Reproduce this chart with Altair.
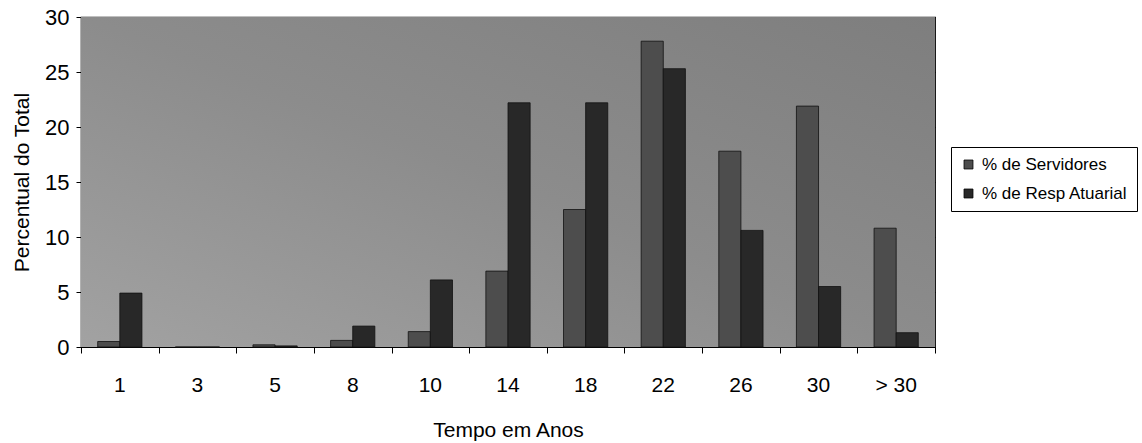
import altair as alt
import pandas as pd

categories = ["1", "3", "5", "8", "10", "14", "18", "22", "26", "30", "> 30"]
servidores = [0.5, 0.0, 0.2, 0.6, 1.4, 6.9, 12.5, 27.8, 17.8, 21.9, 10.8]
resp_atuarial = [4.9, 0.0, 0.1, 1.9, 6.1, 22.2, 22.2, 25.3, 10.6, 5.5, 1.3]
series = ["% de Servidores", "% de Resp Atuarial"]
colors = ["#4d4d4d", "#282828"]

rows = []
for i, c in enumerate(categories):
    rows.append({"cat": c, "idx": i, "serie": series[0], "val": servidores[i]})
    rows.append({"cat": c, "idx": i, "serie": series[1], "val": resp_atuarial[i]})
df = pd.DataFrame(rows)

FONT = "Liberation Sans"

gradient = alt.LinearGradient(
    gradient="linear", x1=0, y1=1, x2=1, y2=0,
    stops=[
        alt.GradientStop(offset=0, color="#a2a2a2"),
        alt.GradientStop(offset=0.5, color="#8c8c8c"),
        alt.GradientStop(offset=1, color="#7e7e7e"),
    ],
)

background = alt.Chart(pd.DataFrame({"a": [0]})).mark_rect(color=gradient).encode(
    x=alt.value(0), x2=alt.value("width"), y=alt.value(0), y2=alt.value("height")
)

y_enc = alt.Y(
    "val:Q",
    scale=alt.Scale(domain=[0, 30], nice=False),
    axis=alt.Axis(
        values=[0, 5, 10, 15, 20, 25, 30],
        title="Percentual do Total",
        titleFont=FONT, titleFontSize=21, titleFontWeight="normal", titleColor="#000",
        titlePadding=12,
        labelFont=FONT, labelFontSize=22, labelColor="#000", labelPadding=7,
        tickSize=5, tickColor="#000", domainColor="#000",
        grid=True, gridColor="#000", gridWidth=1, gridOpacity=1,
    ),
)

bars = alt.Chart(df).mark_bar(stroke="#111", strokeWidth=0.8).encode(
    x=alt.X(
        "cat:N", sort=categories,
        scale=alt.Scale(paddingInner=0.43, paddingOuter=0.215),
        axis=alt.Axis(
            orient="bottom", ticks=False, labelAngle=0,
            title="Tempo em Anos",
            titleFont=FONT, titleFontSize=21, titleFontWeight="normal", titleColor="#000",
            titlePadding=24,
            labelFont=FONT, labelFontSize=21, labelColor="#000", labelPadding=27,
            domainColor="#000", grid=False,
        ),
    ),
    xOffset=alt.XOffset("serie:N", sort=series),
    y=y_enc,
    color=alt.Color(
        "serie:N", sort=series,
        scale=alt.Scale(domain=series, range=colors),
        legend=alt.Legend(
            title=None, orient="none", legendX=870, legendY=130,
            fillColor="#ffffff", strokeColor="#000", padding=9,
            labelFont=FONT, labelFontSize=17, labelColor="#000", labelOffset=5,
            labelLimit=400,
            symbolType="square", symbolSize=80, symbolStrokeColor="#000",
            symbolStrokeWidth=0.8, rowPadding=11,
        ),
    ),
)

ticks = alt.Chart(df).mark_point(opacity=0).encode(
    x=alt.X(
        "idx:Q",
        scale=alt.Scale(domain=[0, 11], nice=False, zero=False),
        axis=alt.Axis(
            orient="bottom", values=list(range(12)), labels=False, title=None,
            domain=False, grid=False, tickSize=6, tickColor="#000",
        ),
    ),
    y=alt.Y("val:Q"),
)

chart = (
    alt.layer(background, bars, ticks)
    .resolve_scale(x="independent")
    .resolve_axis(x="independent")
    .properties(
        width=854, height=330,
        autosize=alt.AutoSizeParams(type="none"),
        padding={"left": 81, "top": 17, "right": 207, "bottom": 96},
        background="#ffffff",
    )
    .configure_view(stroke="#000", strokeWidth=1.2)
)

chart.save("out.html", embed_options={"renderer": "svg", "actions": False})
